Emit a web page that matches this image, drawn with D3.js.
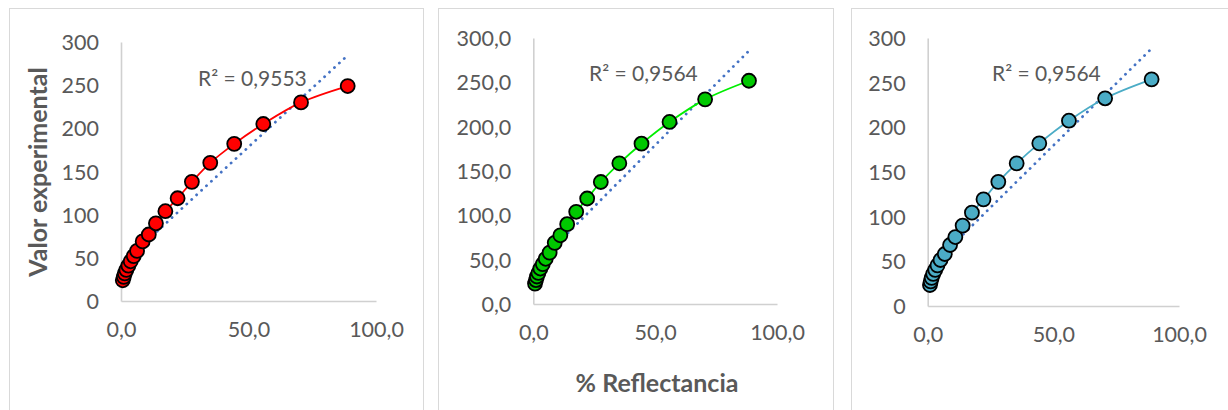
<!DOCTYPE html>
<html>
<head>
<meta charset="utf-8">
<script src="https://cdn.jsdelivr.net/npm/d3@7"></script>
<style>
  html, body { margin: 0; padding: 0; background: #fff; }
  svg { display: block; }
  text { font-family: Lato, "Open Sans", sans-serif; fill: #595959; }
</style>
</head>
<body>
<svg id="chart" width="1228" height="410"></svg>
<script>
// % Reflectancia (x) and valor experimental (y), one pair of arrays per panel
const reflectA = [0.7, 1.1, 1.5, 2.1, 2.9, 3.8, 5.0, 6.3, 8.5, 10.9, 13.7, 17.4, 22.2, 27.8, 35.0, 44.4, 55.8, 70.6, 88.9];
const valorA   = [24, 28, 32, 36, 41, 46, 52, 58, 69, 77, 90, 104, 119, 138, 160, 182, 205, 230, 249];

const reflectB = [0.7, 1.1, 1.5, 2.1, 2.9, 3.9, 5.1, 6.7, 8.8, 11.1, 13.9, 17.6, 22.1, 27.7, 35.3, 44.4, 55.9, 70.5, 88.5];
const valorB   = [23, 27, 31, 35, 40, 45, 51, 58, 69, 77.5, 90, 104, 119, 137.6, 158.7, 180.8, 205.3, 230.8, 251.8];

const reflectC = [0.9, 1.2, 1.6, 2.2, 3.0, 3.9, 5.1, 6.8, 8.9, 11.0, 13.9, 17.6, 22.2, 28.1, 35.4, 44.4, 56.2, 70.6, 89.1];
const valorC   = [23.5, 27.5, 31.5, 36, 40.5, 45.5, 51.5, 58.2, 68.3, 77.2, 90, 104.5, 119.4, 139, 159.7, 182.1, 207.4, 232.5, 253.7];

const r2Labels = ["R² = 0,9553", "R² = 0,9564", "R² = 0,9564"];
const xTicks = [0, 50, 100];
const yTicks = [0, 50, 100, 150, 200, 250, 300];

const svg = d3.select("#chart");

// Spanish-style decimal comma
const fmt1 = v => d3.format(".1f")(v).replace(".", ",");
const fmt0 = v => d3.format("d")(v);

const panels = [
  { xs: reflectA, ys: valorA, r2: r2Labels[0], box: [9, 8, 414], xr: [121, 376], yr: [301, 42],
    yfmt: fmt0, fill: "#ff0000", line: "#ff0000", r2pos: [198, 79] },
  { xs: reflectB, ys: valorB, r2: r2Labels[1], box: [438, 8, 395], xr: [533.3, 777], yr: [304, 38],
    yfmt: fmt1, fill: "#00c800", line: "#00ee00", r2pos: [589, 74] },
  { xs: reflectC, ys: valorC, r2: r2Labels[2], box: [851, 8, 400], xr: [927.7, 1179], yr: [306, 38],
    yfmt: fmt0, fill: "#4bacc6", line: "#4bacc6", r2pos: [992, 74] }
];

panels.forEach(p => {
  const g = svg.append("g");

  // chart area frame
  g.append("rect")
    .attr("x", p.box[0] + 0.5).attr("y", p.box[1] + 0.5)
    .attr("width", p.box[2]).attr("height", 420)
    .attr("fill", "#fff").attr("stroke", "#d9d9d9").attr("stroke-width", 1);

  const x = d3.scaleLinear().domain([0, 100]).range(p.xr);
  const y = d3.scaleLinear().domain([0, 300]).range(p.yr);

  // axes: light gray lines, no tick marks
  const xAxis = g.append("g").attr("transform", `translate(0,${p.yr[0]})`)
    .call(d3.axisBottom(x).tickValues(xTicks).tickFormat(fmt1).tickSize(0).tickPadding(21));
  const yAxis = g.append("g").attr("transform", `translate(${p.xr[0]},0)`)
    .call(d3.axisLeft(y).tickValues(yTicks).tickFormat(p.yfmt).tickSize(0).tickPadding(22));
  [xAxis, yAxis].forEach(a => {
    a.select(".domain").attr("stroke", "#d0d0d0").attr("stroke-width", 1.6);
    a.selectAll("text").attr("font-size", 21.5).attr("fill", "#595959")
      .attr("font-family", "Lato, 'Open Sans', sans-serif");
  });
  yAxis.selectAll("text").attr("dy", "0.35em");

  const pts = p.xs.map((v, i) => [v, p.ys[i]]);

  // least-squares linear trendline
  const mx = d3.mean(pts, d => d[0]), my = d3.mean(pts, d => d[1]);
  const sxy = d3.sum(pts, d => (d[0] - mx) * (d[1] - my));
  const sxx = d3.sum(pts, d => (d[0] - mx) ** 2);
  const slope = sxy / sxx, icpt = my - slope * mx;
  const [x0, x1] = d3.extent(p.xs);
  g.append("line")
    .attr("x1", x(x0)).attr("y1", y(icpt + slope * x0))
    .attr("x2", x(x1)).attr("y2", y(icpt + slope * x1))
    .attr("stroke", "#4472c4").attr("stroke-width", 2.8)
    .attr("stroke-linecap", "round").attr("stroke-dasharray", "0.1 6.6");

  // smoothed series line
  g.append("path")
    .datum(pts)
    .attr("fill", "none").attr("stroke", p.line).attr("stroke-width", 1.8)
    .attr("d", d3.line().x(d => x(d[0])).y(d => y(d[1])).curve(d3.curveCatmullRom.alpha(0.5)));

  // markers
  g.selectAll("circle.pt").data(pts).join("circle")
    .attr("class", "pt")
    .attr("cx", d => x(d[0])).attr("cy", d => y(d[1])).attr("r", 7)
    .attr("fill", p.fill).attr("stroke", "#000").attr("stroke-width", 1.8);

  // R² label
  g.append("text")
    .attr("x", p.r2pos[0]).attr("y", p.r2pos[1]).attr("dy", "0.35em")
    .attr("font-size", 21).text(p.r2);
});

// axis titles
svg.append("text")
  .attr("transform", "translate(38,172) rotate(-90)")
  .attr("text-anchor", "middle").attr("dy", "0.35em")
  .attr("font-size", 25).attr("font-weight", "bold")
  .text("Valor experimental");

svg.append("text")
  .attr("x", 657).attr("y", 383).attr("dy", "0.35em")
  .attr("text-anchor", "middle")
  .attr("font-size", 25).attr("font-weight", "bold")
  .text("% Reflectancia");
</script>
</body>
</html>
